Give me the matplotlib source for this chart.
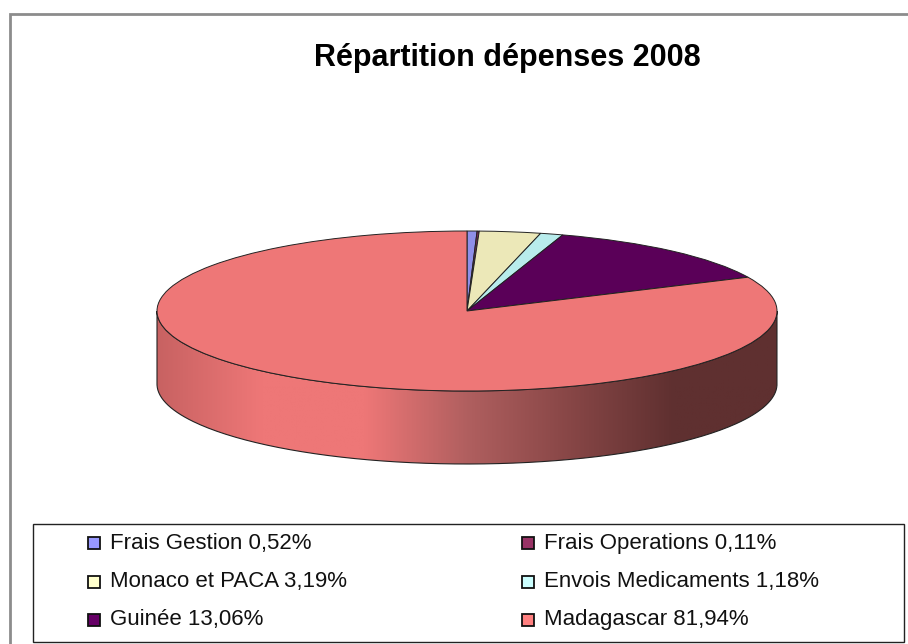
import matplotlib

matplotlib.use("Agg")
import matplotlib.pyplot as plt
import numpy as np
from matplotlib.colors import LinearSegmentedColormap
from matplotlib.patches import PathPatch, Rectangle
from matplotlib.path import Path

plt.rcParams["font.family"] = ["Liberation Sans", "DejaVu Sans"]

TITLE = "Répartition dépenses 2008"
categories = ["Frais Gestion", "Frais Operations", "Monaco et PACA",
              "Envois Medicaments", "Guinée", "Madagascar"]
values = [0.52, 0.11, 3.19, 1.18, 13.06, 81.94]
value_labels = ["0,52%", "0,11%", "3,19%", "1,18%", "13,06%", "81,94%"]
slice_colors = ["#8f8fe8", "#7a2a5a", "#ece8b8", "#b8ecec", "#5a0058", "#ee7777"]
legend_colors = ["#9999ff", "#993366", "#ffffcc", "#ccffff", "#660066", "#ff8080"]
wall_colors = ["#c86262", "#ee7777", "#ee7777", "#b05f5f", "#874646", "#5f3030", "#5f3030"]

W, H = 908, 644
CX, CY, RX, RY, DEPTH = 467, 311, 310, 80, 73

fig = plt.figure(figsize=(W / 100, H / 100), dpi=100, facecolor="white")

# pie axes: one data unit is RX px across and RY px down, so the circle squashes to an ellipse
ax = fig.add_axes([0, 0, 1, 1])
ax.pie(values, colors=slice_colors, startangle=90, counterclock=False,
       wedgeprops={"edgecolor": "#222222", "linewidth": 0.7, "zorder": 3})
ax.set_aspect("auto")
ax.set_xlim(-CX / RX, (W - CX) / RX)
ax.set_ylim((CY - H) / RY, CY / RY)
ax.set_axis_off()

# side wall of the disc, shaded left to right
d = DEPTH / RY
t = np.linspace(np.pi, 2 * np.pi, 200)
xs = np.cos(t)
ys = np.sin(t)
verts = np.vstack([np.column_stack([xs, ys]), np.column_stack([xs[::-1], ys[::-1] - d])])
wall = PathPatch(Path(np.vstack([verts, verts[0]])), facecolor="none",
                 edgecolor="#222222", linewidth=0.8, zorder=2)
ax.add_patch(wall)
cmap = LinearSegmentedColormap.from_list("wall", wall_colors)
im = ax.imshow(np.linspace(0, 1, 256)[None, :], cmap=cmap, aspect="auto",
               extent=[-1, 1, -1 - d, 0], zorder=1)
im.set_clip_path(wall)
ax.set_xlim(-CX / RX, (W - CX) / RX)
ax.set_ylim((CY - H) / RY, CY / RY)

# overlay in pixel coordinates for frame, title and legend
ov = fig.add_axes([0, 0, 1, 1], facecolor="none")
ov.set_xlim(0, W)
ov.set_ylim(H, 0)
ov.set_axis_off()

ov.plot([10, 10, W], [H, 14, 14], color="#8c8c8c", linewidth=2, solid_joinstyle="miter")
ov.text(507, 58, TITLE, fontsize=22, fontweight="bold", ha="center", va="center", color="black")

ov.add_patch(Rectangle((33, 524), 871, 118, facecolor="white", edgecolor="#222222", linewidth=1))
col_x = [88, 522]
row_y = [543, 582, 620]
for i, (name, val, color) in enumerate(zip(categories, value_labels, legend_colors)):
    x = col_x[i % 2]
    y = row_y[i // 2]
    ov.add_patch(Rectangle((x, y - 6), 12, 12, facecolor=color, edgecolor="#111111", linewidth=1.3))
    ov.text(x + 22, y, f"{name} {val}", fontsize=16, va="center", ha="left", color="#111111")

fig.savefig("out.png", dpi=100)
